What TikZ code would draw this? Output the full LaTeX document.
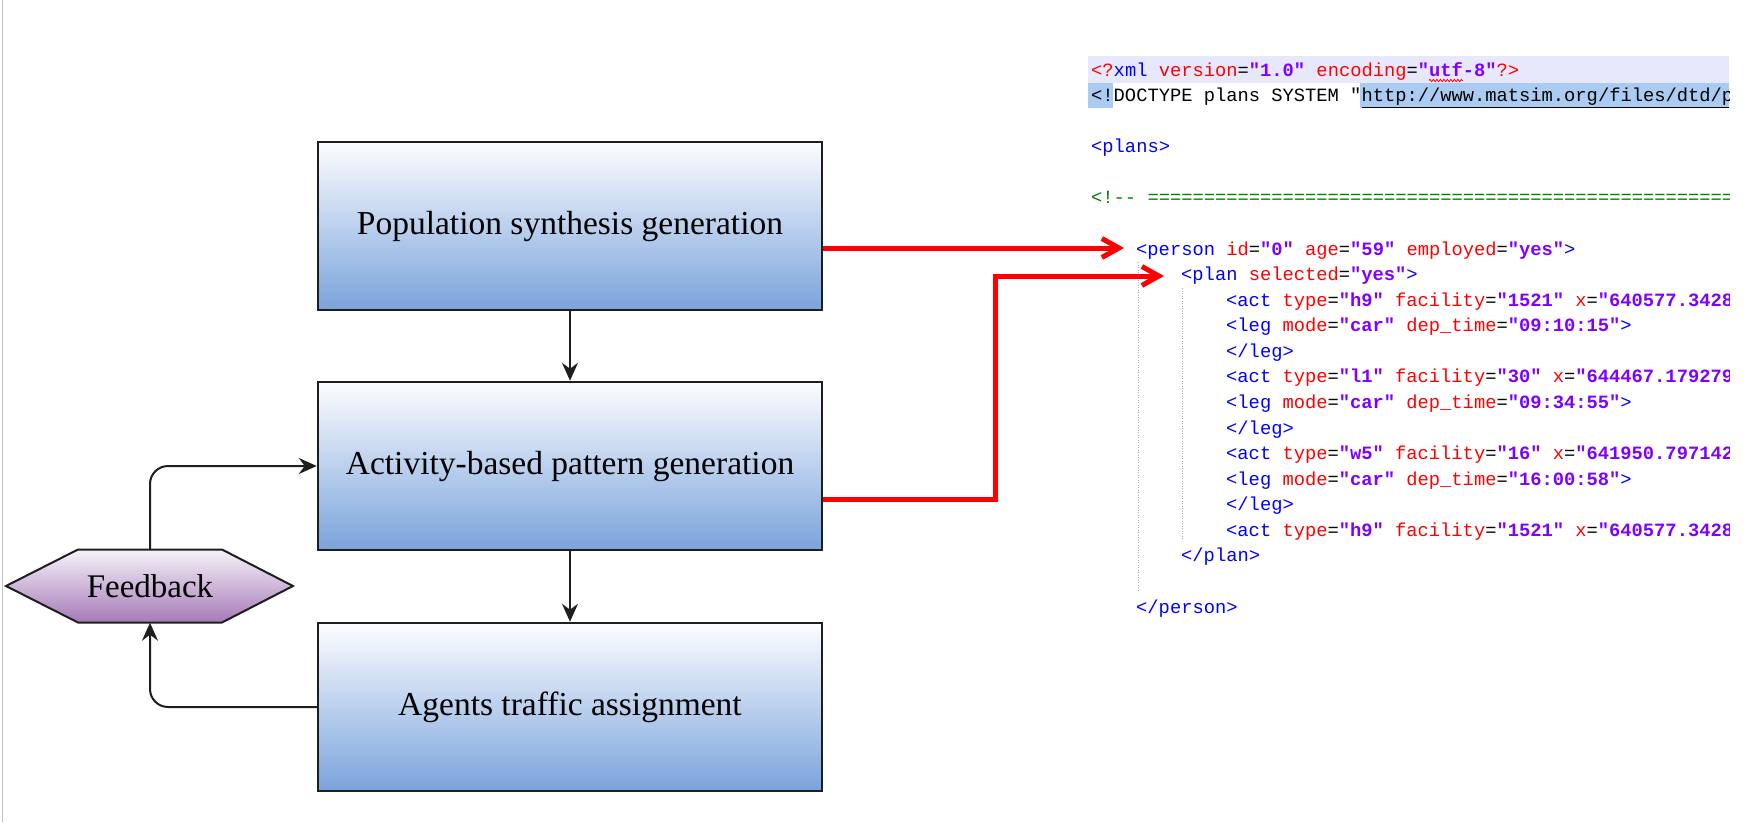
\documentclass[tikz,border=0pt]{standalone}
\usepackage{fontspec}
\setmainfont{Liberation Serif}
\newfontfamily\xmlfont{Liberation Mono}
\usetikzlibrary{arrows.meta,decorations.pathmorphing,calc}

% editor colours for the XML listing
\definecolor{xmltag}{RGB}{0,0,255}
\definecolor{xmlattr}{RGB}{255,0,0}
\definecolor{xmlval}{RGB}{128,0,255}
\definecolor{xmlcomment}{RGB}{0,128,0}
\definecolor{curline}{RGB}{232,232,252}
\definecolor{selblue}{RGB}{170,204,242}
\definecolor{guide}{RGB}{175,175,175}
% flowchart colours
\definecolor{boxtop}{RGB}{252,253,255}
\definecolor{boxbot}{RGB}{122,163,220}
\definecolor{hextop}{RGB}{246,242,249}
\definecolor{hexbot}{RGB}{166,122,184}
\definecolor{edge}{RGB}{30,30,30}
\definecolor{linkred}{RGB}{255,0,0}

\newcommand\xmlT[1]{\textcolor{xmltag}{#1}}
\newcommand\xmlA[1]{\textcolor{xmlattr}{#1}}
\newcommand\xmlV[1]{\textcolor{xmlval}{\bfseries #1}}

\begin{document}
\begin{tikzpicture}[x=1pt,y=-1pt,
  procbox/.style={rectangle, draw=edge, line width=2.5pt,
    minimum width=504pt, minimum height=168pt, inner sep=0pt,
    top color=boxtop, bottom color=boxbot,
    font=\fontsize{33.5}{40}\selectfont},
  flow/.style={draw=edge, line width=2pt,
    -{Stealth[length=18pt,width=16pt,inset=6pt]}},
  link/.style={draw=linkred, line width=5pt, line join=miter,
    -{Straight Barb[length=17pt,width=19pt]}},
  xmlline/.style={anchor=base west, inner sep=0pt,
    font=\xmlfont\fontsize{18.77}{22}\selectfont},
  indentguide/.style={draw=guide, line width=1pt, dash pattern=on 1pt off 1.5pt}
]
\useasboundingbox (0,0) rectangle (1748,822);
\fill[white] (0,0) rectangle (1748,822);

% page edge on the left
\draw[gray!45, line width=1.5pt] (2.5,0) -- (2.5,822);

% ---------- XML listing ----------
\begin{scope}
\clip (0,0) rectangle (1729,822);
\fill[curline] (1088,56) rectangle (1729,83);
\fill[selblue] (1088,83) rectangle (1113,108);
\fill[selblue] (1360,83) rectangle (1729,108);

\draw[indentguide] (1138,262) -- (1138,592);
\draw[indentguide] (1182,288) -- (1182,540);

\node[xmlline] (l0) at (1091,76)
  {\xmlA{<?}\xmlT{xml} \xmlA{version}=\xmlV{"1.0"} \xmlA{encoding}=\xmlV{"utf-8"}\xmlA{?>}};
\draw[xmlattr, line width=0.8pt, decorate,
  decoration={zigzag, segment length=3.5pt, amplitude=1.2pt}] (1429,80.5) -- (1463,80.5);
\node[xmlline] (l1) at (1091,101.6)
  {<!DOCTYPE plans SYSTEM "\underline{http://www.matsim.org/files/dtd/plans\_v4.dtd}">};
\node[xmlline] (l3) at (1091,152.7) {\xmlT{<plans>}};
\node[xmlline] (l5) at (1091,203.9)
  {\textcolor{xmlcomment}{<!-\kern0pt- ============================================================}};
\node[xmlline] (l7) at (1136,255)
  {\xmlT{<person} \xmlA{id}=\xmlV{"0"} \xmlA{age}=\xmlV{"59"} \xmlA{employed}=\xmlV{"yes"}\xmlT{>}};
\node[xmlline] (l8) at (1181,280.6)
  {\xmlT{<plan} \xmlA{selected}=\xmlV{"yes"}\xmlT{>}};
\node[xmlline] (l9) at (1226,306.1)
  {\xmlT{<act} \xmlA{type}=\xmlV{"h9"} \xmlA{facility}=\xmlV{"1521"} \xmlA{x}=\xmlV{"640577.342857"}};
\node[xmlline] (l10) at (1226,331.7)
  {\xmlT{<leg} \xmlA{mode}=\xmlV{"car"} \xmlA{dep\_time}=\xmlV{"09:10:15"}\xmlT{>}};
\node[xmlline] (l11) at (1226,357.3) {\xmlT{</leg>}};
\node[xmlline] (l12) at (1226,382.8)
  {\xmlT{<act} \xmlA{type}=\xmlV{"l1"} \xmlA{facility}=\xmlV{"30"} \xmlA{x}=\xmlV{"644467.179279"}};
\node[xmlline] (l13) at (1226,408.4)
  {\xmlT{<leg} \xmlA{mode}=\xmlV{"car"} \xmlA{dep\_time}=\xmlV{"09:34:55"}\xmlT{>}};
\node[xmlline] (l14) at (1226,434) {\xmlT{</leg>}};
\node[xmlline] (l15) at (1226,459.6)
  {\xmlT{<act} \xmlA{type}=\xmlV{"w5"} \xmlA{facility}=\xmlV{"16"} \xmlA{x}=\xmlV{"641950.797142"}};
\node[xmlline] (l16) at (1226,485.1)
  {\xmlT{<leg} \xmlA{mode}=\xmlV{"car"} \xmlA{dep\_time}=\xmlV{"16:00:58"}\xmlT{>}};
\node[xmlline] (l17) at (1226,510.7) {\xmlT{</leg>}};
\node[xmlline] (l18) at (1226,536.3)
  {\xmlT{<act} \xmlA{type}=\xmlV{"h9"} \xmlA{facility}=\xmlV{"1521"} \xmlA{x}=\xmlV{"640577.342857"}};
\node[xmlline] (l19) at (1181,561.8) {\xmlT{</plan>}};
\node[xmlline] (l21) at (1136,613) {\xmlT{</person>}};
\end{scope}

% ---------- flowchart ----------
\node[procbox] (pop) at (570,226) {Population synthesis generation};
\node[procbox] (act) at (570,466) {Activity-based pattern generation};
\node[procbox] (agt) at (570,707) {Agents traffic assignment};

% feedback hexagon
\coordinate (fbc) at (150,586);
\shadedraw[top color=hextop, bottom color=hexbot, draw=edge, line width=2pt, line join=miter]
  ($(fbc)+(-144,0)$) -- ($(fbc)+(-72,-36.5)$) -- ($(fbc)+(72,-36.5)$) -- ($(fbc)+(143,0)$)
  -- ($(fbc)+(72,36.5)$) -- ($(fbc)+(-72,36.5)$) -- cycle;
\node[rectangle, minimum width=144pt, minimum height=73pt, inner sep=0pt,
  font=\fontsize{33}{40}\selectfont] (fb) at (fbc) {Feedback};

\draw[flow] (pop) -- (act);
\draw[flow] (act) -- (agt);
\draw[flow, rounded corners=18pt] (agt.west) -| (fb.south);
\draw[flow, rounded corners=18pt] (fb.north) |- (act.west);

% links into the listing
\coordinate (personpin) at (1124,248);
\coordinate (planbend) at (995,276);
\coordinate (planpin) at (1164,276);
\draw[link] ([yshift=-22pt]pop.east) -- (personpin);
\draw[link] ([yshift=-33pt]act.east) -| (planbend) -- (planpin);
\end{tikzpicture}
\end{document}
